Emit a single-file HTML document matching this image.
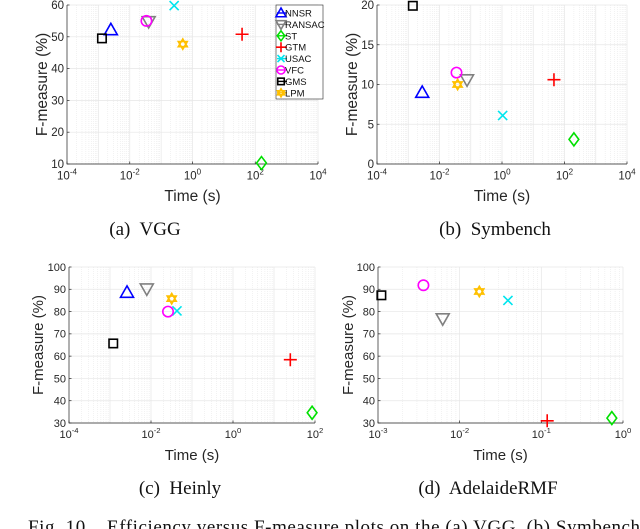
<!DOCTYPE html>
<html><head><meta charset="utf-8"><style>
body{margin:0;background:#fff;}
svg{display:block;font-family:"Liberation Sans",sans-serif;}
.cap{font-family:"Liberation Serif",serif;font-size:19px;fill:#111;white-space:pre;}
</style></head><body>
<svg id="fig" width="640" height="529" viewBox="0 0 640 529" xmlns="http://www.w3.org/2000/svg"></svg>
<script>
const methods = ["NNSR","RANSAC","ST","GTM","USAC","VFC","GMS","LPM"];
const colors = ["#0000ff","#808080","#00e000","#ff0000","#00e5ee","#ff00ff","#000000","#ffc000"];
const markers = ["tri","dtri","diamond","plus","x","circle","square","star"];
const vggTime = [0.0025,0.04,158,38,0.26,0.034,0.0013,0.49];
const vggF = [52.2,54.8,10.3,50.8,59.8,55,49.5,47.7];
const symTime = [0.0028,0.076,200,46,1.05,0.035,0.0014,0.038];
const symF = [9.0,10.6,3.1,10.6,6.1,11.5,19.9,10.0];
const heiTime = [0.0026,0.0079,85,25,0.043,0.026,0.0012,0.032];
const heiF = [88.6,90.2,34.6,58.4,80.3,80,65.7,85.8];
const adeTime = [null,0.0062,0.73,0.118,0.039,0.0036,0.0011,0.0174];
const adeF = [null,76.8,32.2,31,85,91.8,87.3,89];
const vggYTicks = [10,20,30,40,50,60];
const symYTicks = [0,5,10,15,20];
const heiYTicks = [30,40,50,60,70,80,90,100];
const adeYTicks = [30,40,50,60,70,80,90,100];
const vggXTicks = [-4,-2,0,2,4];
const symXTicks = [-4,-2,0,2,4];
const heiXTicks = [-4,-2,0,2];
const adeXTicks = [-3,-2,-1,0];

const NS="http://www.w3.org/2000/svg";
const svg=document.getElementById('fig');
function mk(tag,attrs,parent){const e=document.createElementNS(NS,tag);for(const k in attrs)e.setAttribute(k,attrs[k]);(parent||svg).appendChild(e);return e;}

function marker(g,type,cx,cy,col,s){
  let e;
  const st={fill:"none",stroke:col,"stroke-width":1.6};
  if(type==="tri"){e=mk('polygon',Object.assign({points:`${cx},${cy-s} ${cx-s},${cy+s*0.75} ${cx+s},${cy+s*0.75}`},st),g);}
  else if(type==="dtri"){e=mk('polygon',Object.assign({points:`${cx},${cy+s} ${cx-s},${cy-s*0.75} ${cx+s},${cy-s*0.75}`},st),g);}
  else if(type==="diamond"){e=mk('polygon',Object.assign({points:`${cx},${cy-s} ${cx+s*0.75},${cy} ${cx},${cy+s} ${cx-s*0.75},${cy}`},st),g);}
  else if(type==="plus"){e=mk('path',Object.assign({d:`M${cx-s} ${cy}H${cx+s}M${cx} ${cy-s}V${cy+s}`},st),g);}
  else if(type==="x"){const t=s*0.7;e=mk('path',Object.assign({d:`M${cx-t} ${cy-t}L${cx+t} ${cy+t}M${cx-t} ${cy+t}L${cx+t} ${cy-t}`},st),g);}
  else if(type==="circle"){e=mk('circle',Object.assign({cx:cx,cy:cy,r:s*0.8},st),g);}
  else if(type==="square"){const t=s*0.65;e=mk('rect',Object.assign({x:cx-t,y:cy-t,width:2*t,height:2*t},st),g);}
  else if(type==="star"){const t=s*0.8;e=mk('path',Object.assign({d:`M${cx} ${cy-t}L${cx+t*0.87} ${cy+t/2}L${cx-t*0.87} ${cy+t/2}ZM${cx} ${cy+t}L${cx+t*0.87} ${cy-t/2}L${cx-t*0.87} ${cy-t/2}Z`},st),g);}
  return e;
}

function plot(o){
  const g=mk('g',{});
  
  
  const {L,R,T,B,xmin,xmax,ymin,ymax}=o;
  const sx=v=>L+(Math.log10(v)-xmin)/(xmax-xmin)*(R-L);
  const sy=v=>B-(v-ymin)/(ymax-ymin)*(B-T);
  for(let d=xmin;d<xmax;d++)for(let m=2;m<10;m++){const x=sx(m*Math.pow(10,d));mk('line',{x1:x,x2:x,y1:T,y2:B,stroke:"#e4e4e4","stroke-width":0.5,"stroke-dasharray":"1,1"},g);}
  for(let d=xmin;d<=xmax;d++){const x=sx(Math.pow(10,d));mk('line',{x1:x,x2:x,y1:T,y2:B,stroke:"#e6e6e6","stroke-width":0.7},g);}
  o.yt.forEach(v=>{mk('line',{x1:L,x2:R,y1:sy(v),y2:sy(v),stroke:"#e6e6e6","stroke-width":0.7},g);});
  mk('path',{d:`M${L} ${T}V${B}H${R}`,fill:"none",stroke:"#262626","stroke-width":0.7},g);
  o.xt.forEach(d=>{const x=sx(Math.pow(10,d));mk('line',{x1:x,x2:x,y1:B,y2:B-2.5,stroke:"#262626","stroke-width":0.7},g);
    const t=mk('text',{x:x,y:B+o.tf+4,"text-anchor":"middle","font-size":o.tf,fill:"#262626"},g);
    
    
    t.textContent="10";const s=mk('tspan',{dy:-5,"font-size":o.tf*0.7},t);s.textContent=String(d);});
  o.yt.forEach(v=>{mk('line',{x1:L,x2:L+2.5,y1:sy(v),y2:sy(v),stroke:"#262626","stroke-width":0.7},g);
    const t=mk('text',{x:L-3,y:sy(v)+o.tf*0.35,"text-anchor":"end","font-size":o.tf,fill:"#262626"},g);
    
    
    t.textContent=v;});
  const xl=mk('text',{x:(L+R)/2,y:o.xly,"text-anchor":"middle","font-size":o.lf,fill:"#262626"},g);
  
  
  xl.textContent="Time (s)";
  const yl=mk('text',{x:0,y:0,transform:`translate(${o.ylx},${(T+B)/2}) rotate(-90)`,"text-anchor":"middle","font-size":o.lf,fill:"#262626"},g);
  
  
  yl.textContent="F-measure (%)";
  o.xs.forEach((v,i)=>{if(v==null)return;const m=marker(g,markers[i],sx(v),sy(o.ys[i]),colors[i],6.5);
    
    });
  const c=mk('text',{x:o.cx,y:o.cy,"text-anchor":"middle",class:"cap"},g);
  
  
  c.textContent=o.cap;
}
plot({name:'plot-vgg',L:67,R:318,T:5,B:164,xmin:-4,xmax:4,ymin:10,ymax:60,yt:vggYTicks,xt:vggXTicks,xs:vggTime,ys:vggF,tf:11.5,lf:15.5,xly:201,ylx:47,cx:145,cy:235,cap:"(a)  VGG"});
plot({name:'plot-symbench',L:377,R:627,T:5,B:164,xmin:-4,xmax:4,ymin:0,ymax:20,yt:symYTicks,xt:symXTicks,xs:symTime,ys:symF,tf:11.5,lf:15.5,xly:201,ylx:357,cx:495,cy:235,cap:"(b)  Symbench"});
plot({name:'plot-heinly',L:69,R:315,T:267,B:423,xmin:-4,xmax:2,ymin:30,ymax:100,yt:heiYTicks,xt:heiXTicks,xs:heiTime,ys:heiF,tf:11,lf:15,xly:460,ylx:43,cx:180,cy:494,cap:"(c)  Heinly"});
plot({name:'plot-adelaidermf',L:378,R:623,T:267,B:423,xmin:-3,xmax:0,ymin:30,ymax:100,yt:adeYTicks,xt:adeXTicks,xs:adeTime,ys:adeF,tf:11,lf:15,xly:460,ylx:353,cx:488,cy:494,cap:"(d)  AdelaideRMF"});

const lg=mk('g',{});


mk('rect',{x:276,y:5,width:47,height:94,fill:"#fff",stroke:"#262626","stroke-width":0.6},lg);
methods.forEach((n,i)=>{const y=13+i*11.4;
  const e=mk('g',{},lg);
  
  
  mk('line',{x1:277,x2:287,y1:y,y2:y,stroke:colors[i],"stroke-width":1.4},e);
  marker(e,markers[i],281,y,colors[i],5);
  const t=mk('text',{x:285,y:y+3.5,"font-size":9.5,fill:"#111"},e);t.textContent=n;});

const fc=mk('text',{x:28,y:533,class:"cap",textLength:612,lengthAdjust:"spacing"});


fc.textContent="Fig. 10.   Efficiency versus F-measure plots on the (a) VGG, (b) Symbench";
</script>
</body></html>
